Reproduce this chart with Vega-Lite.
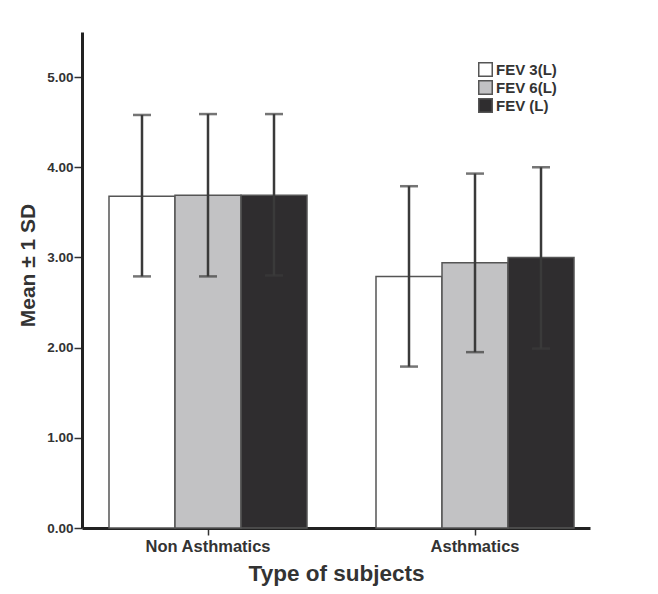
{
  "$schema": "https://vega.github.io/schema/vega-lite/v6.json",
  "width": 508,
  "height": 496,
  "autosize": {"type": "none"},
  "padding": {"left": 82, "top": 32, "right": 68, "bottom": 66},
  "background": "white",
  "config": {"view": {"stroke": null}, "font": "Liberation Sans"},
  "data": {
    "values": [
      {"group": "Non Asthmatics", "measure": "FEV 3(L)", "mean": 3.68, "lo": 2.79, "hi": 4.58},
      {"group": "Non Asthmatics", "measure": "FEV 6(L)", "mean": 3.69, "lo": 2.79, "hi": 4.59},
      {"group": "Non Asthmatics", "measure": "FEV (L)", "mean": 3.69, "lo": 2.80, "hi": 4.59},
      {"group": "Asthmatics", "measure": "FEV 3(L)", "mean": 2.79, "lo": 1.79, "hi": 3.79},
      {"group": "Asthmatics", "measure": "FEV 6(L)", "mean": 2.94, "lo": 1.95, "hi": 3.93},
      {"group": "Asthmatics", "measure": "FEV (L)", "mean": 3.00, "lo": 1.99, "hi": 4.00}
    ]
  },
  "encoding": {
    "x": {
      "field": "group",
      "type": "nominal",
      "sort": ["Non Asthmatics", "Asthmatics"],
      "scale": {"paddingInner": 0.2584, "paddingOuter": 0.0805, "align": 0.628},
      "axis": {
        "title": "Type of subjects",
        "labelAngle": 0,
        "domainColor": "#222222",
        "domainWidth": 3,
        "tickColor": "#333333",
        "tickWidth": 1.5,
        "tickSize": 7,
        "labelPadding": 3,
        "labelFont": "Liberation Sans",
        "labelFontSize": 16.5,
        "labelFontWeight": "bold",
        "labelColor": "#333333",
        "titleFont": "Liberation Sans",
        "titleFontSize": 22.5,
        "titleFontWeight": "bold",
        "titleColor": "#333333",
        "titlePadding": 8
      }
    },
    "xOffset": {
      "field": "measure",
      "type": "nominal",
      "sort": ["FEV 3(L)", "FEV 6(L)", "FEV (L)"],
      "scale": {"paddingInner": 0, "paddingOuter": 0}
    }
  },
  "layer": [
    {
      "mark": {"type": "bar", "stroke": "#555555", "strokeWidth": 1.5},
      "encoding": {
        "y": {
          "field": "mean",
          "type": "quantitative",
          "scale": {"domain": [0, 5.5], "nice": false},
          "axis": {
            "title": "Mean ± 1 SD",
            "format": ".2f",
            "values": [0, 1, 2, 3, 4, 5],
            "grid": false,
            "domainColor": "#222222",
            "domainWidth": 3,
            "tickColor": "#333333",
            "tickWidth": 1.5,
            "tickSize": 8,
            "labelPadding": 1,
            "labelFont": "Liberation Sans",
            "labelFontSize": 13.5,
            "labelFontWeight": "bold",
            "labelColor": "#333333",
            "titleFont": "Liberation Sans",
            "titleFontSize": 21,
            "titleFontWeight": "bold",
            "titleColor": "#333333",
            "titlePadding": 8,
            "titleY": 233
          }
        },
        "fill": {
          "field": "measure",
          "type": "nominal",
          "scale": {
            "domain": ["FEV 3(L)", "FEV 6(L)", "FEV (L)"],
            "range": ["#ffffff", "#c2c2c4", "#2f2d2f"]
          },
          "legend": {
            "title": null,
            "orient": "none",
            "legendX": 396,
            "legendY": 30,
            "padding": 0,
            "symbolType": "square",
            "symbolSize": 182,
            "symbolStrokeColor": "#555555",
            "symbolStrokeWidth": 1.5,
            "labelFont": "Liberation Sans",
            "labelFontSize": 15,
            "labelFontWeight": "bold",
            "labelColor": "#333333",
            "labelOffset": 3,
            "rowPadding": -3
          }
        }
      }
    },
    {
      "mark": {"type": "rule", "color": "#3a3a3a", "strokeWidth": 2.5},
      "encoding": {
        "y": {"field": "lo", "type": "quantitative", "axis": {"title": "Mean ± 1 SD"}},
        "y2": {"field": "hi"}
      }
    },
    {
      "mark": {"type": "tick", "color": "#3a3a3a", "thickness": 2.5, "size": 18},
      "encoding": {
        "y": {"field": "lo", "type": "quantitative", "axis": {"title": "Mean ± 1 SD"}}
      }
    },
    {
      "mark": {"type": "tick", "color": "#3a3a3a", "thickness": 2.5, "size": 18},
      "encoding": {
        "y": {"field": "hi", "type": "quantitative", "axis": {"title": "Mean ± 1 SD"}}
      }
    }
  ]
}
